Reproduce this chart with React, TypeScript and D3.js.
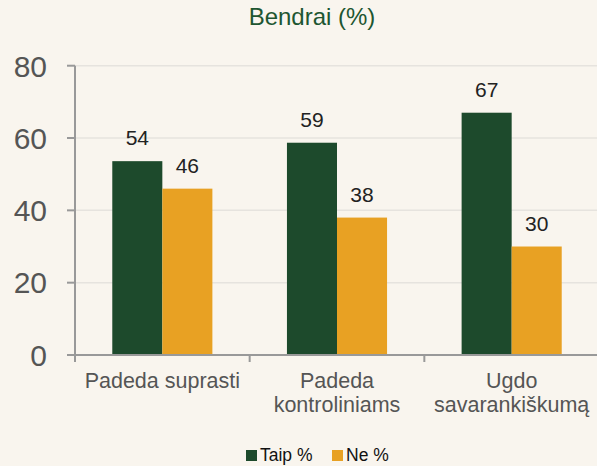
import React from "react";
import * as d3 from "d3";

const categories: string[][] = [["Padeda suprasti"], ["Padeda", "kontroliniams"], ["Ugdo", "savarankiškumą"]];
const taipValues = [53.6, 58.7, 67];
const neValues = [46, 38, 30];
const seriesNames = ["Taip %", "Ne %"];
const yTicks = [0, 20, 40, 60, 80];

const W = 597, H = 466;
const BG = "#f9f5ee";
const GREEN = "#1d4a2c";
const ORANGE = "#e8a123";
const FONT = "'Liberation Sans', Arial, sans-serif";

export default function App() {
  const x0 = 75, x1 = 599;
  const y = d3.scaleLinear().domain([0, 80]).range([355, 65.7]);
  const xBand = d3.scaleBand<number>().domain(categories.map((_, i) => i)).range([x0, x1]).paddingInner(0).paddingOuter(0);
  const inner = d3.scaleBand<number>().domain([0, 1]).range([0, xBand.bandwidth()]).paddingInner(0).paddingOuter(0.745);
  const series = [taipValues, neValues];
  const colors = [GREEN, ORANGE];
  const fmt = d3.format(".0f");
  const tickXs = [0, 1, 2].map((i) => x0 + i * xBand.step());
  return (
    <svg width={W} height={H} style={{ position: "absolute", left: 0, top: 0, background: BG }}>
      <rect x={0} y={0} width={W} height={H} fill={BG} />
      <text x={312} y={25} textAnchor="middle" fontFamily={FONT} fontSize={24} fill="#1e5631">Bendrai (%)</text>
      {yTicks.filter((t) => t > 0).map((t) => (
        <line key={"g" + t} x1={x0} x2={W} y1={y(t)} y2={y(t)} stroke="#e6e3de" strokeWidth={1.5} />
      ))}
      {series.map((vals, s) =>
        vals.map((v, i) => {
          const bx = (xBand(i) as number) + (inner(s) as number);
          return (
            <g key={s + "-" + i}>
              <rect x={bx} y={y(v)} width={inner.bandwidth()} height={y(0) - y(v)} fill={colors[s]} />
              <text x={bx + inner.bandwidth() / 2} y={y(v) - 16} textAnchor="middle" fontFamily={FONT} fontSize={21} fill="#222">{fmt(v)}</text>
            </g>
          );
        })
      )}
      <line x1={x0} x2={x0} y1={y(80)} y2={y(0) + 7} stroke="#999" strokeWidth={2} />
      {yTicks.map((t) => (
        <g key={"t" + t}>
          <line x1={67} x2={x0} y1={y(t)} y2={y(t)} stroke="#999" strokeWidth={2} />
          <text x={47} y={y(t)} dy="0.36em" textAnchor="end" fontFamily={FONT} fontSize={30} fill="#555">{t}</text>
        </g>
      ))}
      <line x1={67} x2={W} y1={y(0)} y2={y(0)} stroke="#999" strokeWidth={2} />
      {tickXs.map((tx, i) => (
        <line key={"xt" + i} x1={tx} x2={tx} y1={y(0)} y2={y(0) + 7} stroke="#999" strokeWidth={2} />
      ))}
      {categories.map((lines, i) => (
        <text key={"c" + i} x={(xBand(i) as number) + xBand.bandwidth() / 2} textAnchor="middle" fontFamily={FONT} fontSize={21.5} fill="#555">
          {lines.map((l, j) => (
            <tspan key={j} x={(xBand(i) as number) + xBand.bandwidth() / 2} y={388 + j * 24}>{l}</tspan>
          ))}
        </text>
      ))}
      {seriesNames.map((n, i) => {
        const lx = i === 0 ? 246 : 332;
        return (
          <g key={"l" + i}>
            <rect x={lx} y={450} width={11} height={11} fill={colors[i]} />
            <text x={lx + 14} y={461} fontFamily={FONT} fontSize={17.5} fill="#111">{n}</text>
          </g>
        );
      })}
    </svg>
  );
}
